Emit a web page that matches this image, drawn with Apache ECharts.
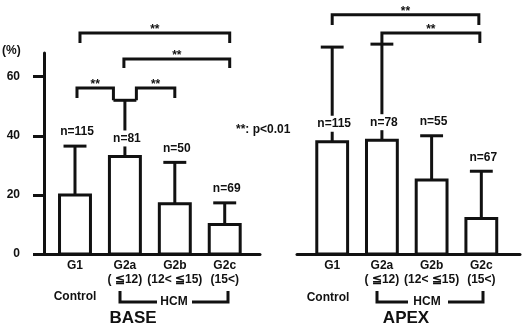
<!DOCTYPE html>
<html>
<head>
<meta charset="utf-8">
<script src="https://cdn.jsdelivr.net/npm/echarts@6/dist/echarts.min.js"></script>
<style>
html,body{margin:0;padding:0;background:#fff}
#chart{width:528px;height:329px}
</style>
</head>
<body>
<div id="chart"></div>
<script>
// 分组
var groups = ['G1', 'G2a', 'G2b', 'G2c'];
var ranges = ['', '( \u226612)', '(12< \u226615)', '(15<)'];
var yTicks = [0, 20, 40, 60];

// BASE
var baseMean = [20, 33, 17, 10];
var baseUpper = [36.5, 52, 31, 17.3];
var baseN = ['n=115', 'n=81', 'n=50', 'n=69'];
var baseLabelOn = ['cap', 'bar', 'cap', 'cap'];
// [from, to, top, left end, right end]
var baseBrackets = [
	[0.1, 3.1, 74.8, 71.4, 71.4],
	[0.98, 3.1, 66, 62.9, 62.9],
	[0.04, 0.77, 56.2, 52.8, 52],
	[1.23, 2.0, 56.2, 52, 52.8]
];

// APEX
var apexMean = [38, 38.5, 25, 12];
var apexUpper = [70, 71, 40, 28];
var apexN = ['n=115', 'n=78', 'n=55', 'n=67'];
var apexLabelOn = ['bar', 'bar', 'cap', 'cap'];
var apexBrackets = [
	[0, 2.95, 80.9, 77.5, 77.5],
	[1.0, 2.97, 74.8, 71, 71.4]
];

var FONT = 'bold 12px "Liberation Sans", Arial, sans-serif';
var INK = '#111';

function barData(mean, upper, nText, on) {
	var out = [];
	for (var i = 0; i < mean.length; i++) {
		out.push({value: [i, mean[i], upper[i]], nText: nText[i], on: on[i]});
	}
	return out;
}

function makeBarRender(list) {
	return function(params, api) {
		var item = list[params.dataIndex];
		var i = api.value(0), m = api.value(1), e = api.value(2);
		var base = api.coord([i, 0]);
		var top = api.coord([i, m]);
		var cap = api.coord([i, e]);
		var w = api.size([0.62, 0])[0];
		var cw = api.size([0.46, 0])[0];
		var ly = item.on == 'cap' ? cap[1] - 14 : top[1] - 18;
		return {
			type: 'group',
			children: [
				{type: 'line', shape: {x1: top[0], y1: top[1], x2: cap[0], y2: cap[1]}, style: {stroke: INK, lineWidth: 3}},
				{type: 'line', shape: {x1: cap[0] - cw / 2, y1: cap[1], x2: cap[0] + cw / 2, y2: cap[1]}, style: {stroke: INK, lineWidth: 3}},
				{type: 'rect', shape: {x: top[0] - w / 2, y: top[1], width: w, height: base[1] - top[1]}, style: {fill: '#fff', stroke: INK, lineWidth: 3}},
				{type: 'text', style: {text: item.nText, x: top[0] + 2, y: ly, align: 'center', verticalAlign: 'middle', font: FONT, fill: INK, backgroundColor: '#fff', padding: [2, 1]}}
			]
		};
	};
}

function bracketRender(params, api) {
	var x1 = api.value(0), x2 = api.value(1), t = api.value(2);
	var a = api.coord([x1, api.value(3)]);
	var b = api.coord([x1, t]);
	var c = api.coord([x2, t]);
	var d = api.coord([x2, api.value(4)]);
	return {
		type: 'group',
		children: [
			{type: 'polyline', shape: {points: [a, b, c, d]}, style: {stroke: INK, lineWidth: 3, fill: null}},
			{type: 'text', style: {text: '**', x: (b[0] + c[0]) / 2, y: b[1] - 3, align: 'center', verticalAlign: 'middle', font: FONT, fill: INK}}
		]
	};
}

var baseList = barData(baseMean, baseUpper, baseN, baseLabelOn);
var apexList = barData(apexMean, apexUpper, apexN, apexLabelOn);

function xAxisOf(idx, min, max) {
	return {
		type: 'value', gridIndex: idx, min: min, max: max,
		splitLine: {show: false},
		axisLine: {show: true, onZero: false, lineStyle: {color: INK, width: 3}},
		axisTick: {show: false},
		axisLabel: {
			customValues: [0, 1, 2, 3],
			margin: 5,
			lineHeight: 14,
			color: INK, fontWeight: 'bold', fontSize: 12, fontFamily: 'Liberation Sans',
			formatter: function(v) { return groups[v] + '\n' + ranges[v]; }
		}
	};
}

var chart = echarts.init(document.getElementById('chart'));
var option = {
	animation: false,
	backgroundColor: '#fff',
	grid: [
		{left: 44, top: 53, width: 216, height: 201},
		{left: 297, top: 53, width: 223, height: 201}
	],
	xAxis: [xAxisOf(0, -0.621, 3.707), xAxisOf(1, -0.708, 3.778)],
	yAxis: [{
		type: 'value', gridIndex: 0, min: 0, max: 68,
		splitLine: {show: false},
		axisLine: {show: true, onZero: false, lineStyle: {color: INK, width: 3}},
		axisTick: {show: true, length: 11, customValues: yTicks, lineStyle: {color: INK, width: 3}},
		axisLabel: {customValues: yTicks, margin: 24, color: INK, fontWeight: 'bold', fontSize: 12, fontFamily: 'Liberation Sans'}
	}, {
		type: 'value', gridIndex: 1, min: 0, max: 68, show: false
	}],
	series: [
		{type: 'custom', xAxisIndex: 0, yAxisIndex: 0, clip: false, renderItem: makeBarRender(baseList), data: baseList},
		{type: 'custom', xAxisIndex: 0, yAxisIndex: 0, clip: false, renderItem: bracketRender, data: baseBrackets},
		{type: 'custom', xAxisIndex: 1, yAxisIndex: 1, clip: false, renderItem: makeBarRender(apexList), data: apexList},
		{type: 'custom', xAxisIndex: 1, yAxisIndex: 1, clip: false, renderItem: bracketRender, data: apexBrackets}
	],
	graphic: [
		{type: 'text', left: 2, top: 45, style: {text: '(%)', font: FONT, fill: INK}},
		{type: 'text', left: 236, top: 124, style: {text: '**: p<0.01', font: FONT, fill: INK}},
		{type: 'text', x: 75, y: 297, style: {text: 'Control', align: 'center', verticalAlign: 'middle', font: FONT, fill: INK}},
		{type: 'text', x: 328, y: 298, style: {text: 'Control', align: 'center', verticalAlign: 'middle', font: FONT, fill: INK}},
		{type: 'polyline', shape: {points: [[120, 291], [120, 302], [157, 302]]}, style: {stroke: INK, lineWidth: 3, fill: null}},
		{type: 'polyline', shape: {points: [[192, 302], [228, 302], [228, 291]]}, style: {stroke: INK, lineWidth: 3, fill: null}},
		{type: 'text', x: 174, y: 302, style: {text: 'HCM', align: 'center', verticalAlign: 'middle', font: FONT, fill: INK}},
		{type: 'polyline', shape: {points: [[377, 291], [377, 302], [408, 302]]}, style: {stroke: INK, lineWidth: 3, fill: null}},
		{type: 'polyline', shape: {points: [[448, 302], [483, 302], [483, 291]]}, style: {stroke: INK, lineWidth: 3, fill: null}},
		{type: 'text', x: 427, y: 302, style: {text: 'HCM', align: 'center', verticalAlign: 'middle', font: FONT, fill: INK}},
		{type: 'text', x: 133, y: 318, style: {text: 'BASE', align: 'center', verticalAlign: 'middle', font: 'bold 17px "Liberation Sans", Arial, sans-serif', fill: INK}},
		{type: 'text', x: 406, y: 318, style: {text: 'APEX', align: 'center', verticalAlign: 'middle', font: 'bold 17px "Liberation Sans", Arial, sans-serif', fill: INK}}
	]
};
chart.setOption(option);
</script>
</body>
</html>
